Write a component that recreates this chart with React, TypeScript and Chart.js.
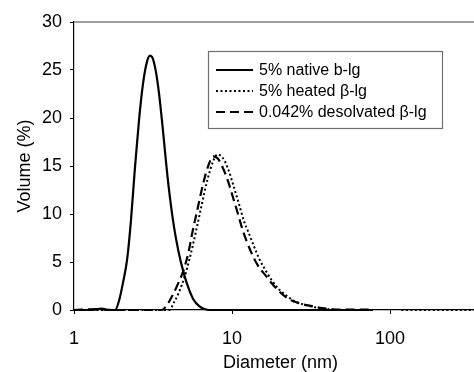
import React, { useEffect, useRef } from 'react';
import { Chart, registerables } from 'chart.js';

Chart.register(...registerables);

// Diameter (nm) and Volume (%)
const nativeDiameter = [1.0, 1.3, 1.4, 1.5, 1.6, 1.75, 1.82, 1.93, 2.04, 2.17, 2.29, 2.43, 2.58, 2.73, 2.9, 3.03, 3.15, 3.3, 3.45, 3.6, 3.95, 4.3, 4.6, 4.92, 5.3, 5.7, 6.2, 6.7, 7.2, 10, 20, 40, 78];
const nativeVolume = [0, 0, 0.1, 0.15, 0.05, 0, 0, 1.0, 2.8, 5.3, 9.2, 14.8, 19.8, 23.5, 25.9, 26.5, 26.2, 24.8, 22.6, 19.8, 13.2, 8.6, 6.0, 4.0, 2.3, 1.1, 0.4, 0.1, 0, 0, 0, 0, 0];

const heatedDiameter = [1.0, 2.0, 3.0, 4.0, 4.3, 4.6, 5.0, 5.4, 5.9, 6.4, 7.0, 7.6, 8.1, 8.7, 9.4, 10.2, 11.0, 12.0, 12.7, 13.8, 15.0, 16.5, 18.0, 20.0, 22.5, 25.0, 28.0, 32.0, 37.0, 43.0, 50.0, 60.0, 78.0, 95.0, 118.0, 200.0, 411.0];
const heatedVolume = [0, 0, 0, 0, 0.8, 1.8, 3.4, 5.4, 8.1, 10.8, 13.6, 15.5, 16.2, 15.9, 14.8, 13.0, 11.2, 9.1, 8.1, 6.6, 5.2, 4.0, 3.0, 2.1, 1.4, 0.9, 0.6, 0.35, 0.15, 0.05, 0, 0, 0, null, 0, 0, 0];

const desolvDiameter = [1.0, 1.4, 1.5, 1.6, 2.0, 3.0, 3.6, 3.9, 4.2, 4.6, 4.9, 5.3, 5.6, 6.1, 6.6, 7.1, 7.6, 8.1, 8.7, 9.4, 10.2, 11.0, 11.8, 13.0, 14.5, 16.5, 18.0, 20.0, 22.5, 25.0, 28.0, 32.0, 37.0, 43.0, 50.0, 60.0, 70.0, 78.0];
const desolvVolume = [0, 0.1, 0.1, 0, 0, 0, 0, 0.6, 1.5, 2.9, 4.0, 6.0, 8.0, 10.8, 13.3, 15.1, 16.0, 15.8, 14.9, 13.5, 11.6, 9.8, 8.1, 6.3, 4.7, 3.5, 2.7, 1.9, 1.2, 0.85, 0.6, 0.4, 0.2, 0.08, 0.03, 0.05, 0.05, 0];

const seriesLabels = ['5% native b-lg', '5% heated \u03b2-lg', '0.042% desolvated \u03b2-lg'];
const xTickValues = [1, 10, 100];
const xMin = 1;
const xMax = 411;
const yMin = 0;
const yMax = 30;
const yStep = 5;

const FONT = '"Liberation Sans", Arial, Helvetica, sans-serif';

function toPoints(xs: number[], ys: (number | null)[]) {
  return xs.map((x, i) => ({ x, y: ys[i] }));
}

const boxLegendPlugin = {
  id: 'boxLegend',
  afterDraw(chart: any) {
    const { ctx, chartArea } = chart;
    ctx.save();
    // top frame line
    ctx.strokeStyle = '#7f7f7f';
    ctx.lineWidth = 1.5;
    ctx.beginPath();
    ctx.moveTo(chartArea.left, chartArea.top);
    ctx.lineTo(chartArea.right, chartArea.top);
    ctx.stroke();

    // legend box
    const bx = 208.5, by = 51.5, bw = 234, bh = 77;
    ctx.fillStyle = '#ffffff';
    ctx.fillRect(bx, by, bw, bh);
    ctx.strokeStyle = '#6f6f6f';
    ctx.lineWidth = 1.2;
    ctx.strokeRect(bx, by, bw, bh);
    chart.data.datasets.forEach((ds: any, i: number) => {
      const y = 70 + i * 21;
      ctx.setLineDash(ds.borderDash || []);
      ctx.strokeStyle = '#000';
      ctx.lineWidth = ds.borderWidth;
      ctx.beginPath();
      ctx.moveTo(216, y);
      ctx.lineTo(253, y);
      ctx.stroke();
      ctx.setLineDash([]);
      ctx.fillStyle = '#000';
      ctx.font = '16px ' + FONT;
      ctx.textBaseline = 'middle';
      ctx.textAlign = 'left';
      ctx.fillText(ds.label, 259, y + 1);
    });
    ctx.restore();
  },
};

export default function App() {
  const ref = useRef<HTMLCanvasElement>(null);

  useEffect(() => {
    const chart = new Chart(ref.current as HTMLCanvasElement, {
      type: 'line',
      data: {
        datasets: [
          {
            label: seriesLabels[0],
            data: toPoints(nativeDiameter, nativeVolume) as any,
            borderColor: '#000',
            borderWidth: 2.2,
            borderDash: [],
            pointRadius: 0,
            cubicInterpolationMode: 'monotone',
            fill: false,
            clip: false,
          },
          {
            label: seriesLabels[1],
            data: toPoints(heatedDiameter, heatedVolume) as any,
            borderColor: '#000',
            borderWidth: 2,
            borderDash: [2, 2.5],
            pointRadius: 0,
            cubicInterpolationMode: 'monotone',
            fill: false,
            clip: false,
          },
          {
            label: seriesLabels[2],
            data: toPoints(desolvDiameter, desolvVolume) as any,
            borderColor: '#000',
            borderWidth: 2.2,
            borderDash: [9, 5],
            pointRadius: 0,
            cubicInterpolationMode: 'monotone',
            fill: false,
            clip: false,
          },
        ] as any,
      },
      options: {
        animation: false,
        responsive: true,
        maintainAspectRatio: false,
        layout: { padding: { top: 22, right: 1, left: 0, bottom: 0 } },
        plugins: {
          legend: { display: false },
          tooltip: { enabled: false },
        },
        scales: {
          x: {
            type: 'logarithmic',
            min: xMin,
            max: xMax,
            afterBuildTicks: (scale: any) => {
              scale.ticks = xTickValues.map((v) => ({ value: v }));
            },
            afterFit: (scale: any) => {
              scale.height = 62;
            },
            ticks: {
              color: '#000',
              font: { family: FONT, size: 18 },
              padding: 14,
              maxRotation: 0,
              autoSkip: false,
              callback: (v: any) => String(v),
            },
            grid: {
              display: true,
              drawOnChartArea: false,
              drawTicks: true,
              tickLength: 4,
              color: '#000',
              lineWidth: 1,
            },
            border: { display: true, color: '#000', width: 1.2 },
            title: {
              display: true,
              text: 'Diameter (nm)',
              color: '#000',
              font: { family: FONT, size: 18, lineHeight: 1 },
              padding: { top: 0, bottom: 0 },
            },
          },
          y: {
            type: 'linear',
            min: yMin,
            max: yMax,
            afterFit: (scale: any) => {
              scale.width = 74;
            },
            ticks: {
              stepSize: yStep,
              color: '#000',
              font: { family: FONT, size: 18 },
              padding: 8,
            },
            grid: {
              display: true,
              drawOnChartArea: false,
              drawTicks: true,
              tickLength: 4,
              color: '#000',
              lineWidth: 1,
            },
            border: { display: true, color: '#000', width: 1.2 },
            title: {
              display: true,
              text: 'Volume (%)',
              color: '#000',
              font: { family: FONT, size: 18, lineHeight: 1 },
              padding: { top: 16, bottom: 0 },
            },
          },
        },
      },
      plugins: [boxLegendPlugin],
    });
    return () => chart.destroy();
  }, []);

  return (
    <div
      style={{
        position: 'fixed',
        left: 0,
        top: 0,
        width: 474,
        height: 372,
        overflow: 'hidden',
        background: '#fff',
      }}
    >
      <div style={{ position: 'relative', width: 488, height: 372 }}>
        <canvas ref={ref} />
      </div>
    </div>
  );
}
